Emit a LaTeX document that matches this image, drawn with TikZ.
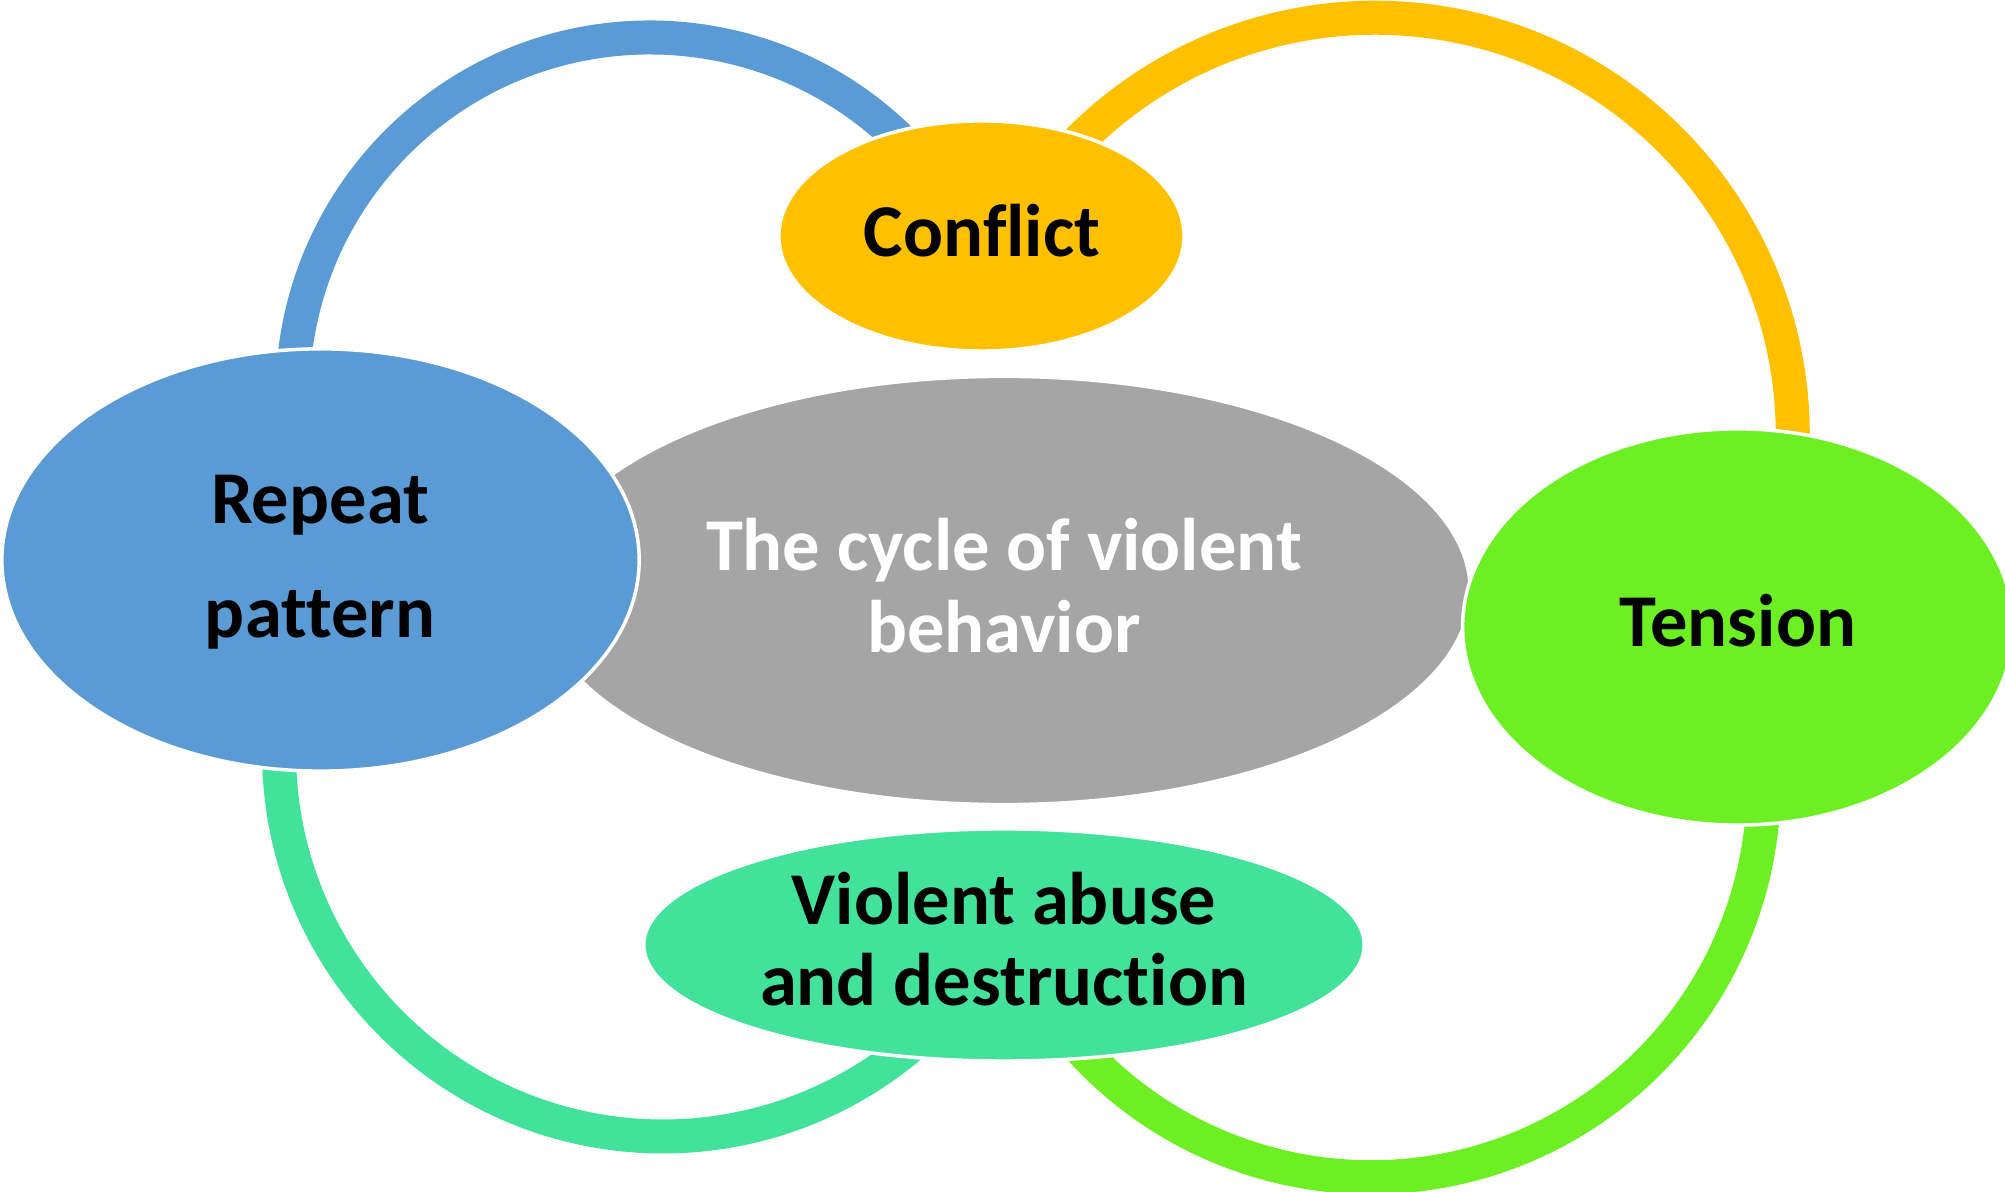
\documentclass[tikz,border=0pt]{standalone}
\usepackage{fontspec}
\setmainfont[Ligatures=NoCommon]{Carlito}
\usetikzlibrary{shapes.geometric}

\definecolor{repeatblue}{HTML}{5B9BD5}
\definecolor{conflictgold}{HTML}{FFC000}
\definecolor{tensiongreen}{HTML}{6CF023}
\definecolor{abuseteal}{HTML}{42E29B}
\definecolor{coregray}{HTML}{A5A5A5}

\tikzset{
  stage/.style={ellipse, draw=white, line width=1pt, inner sep=0pt, outer sep=0pt},
  ring/.style={line width=0.34cm},
  lbl/.style={anchor=base, inner sep=0pt, text=black,
              font=\bfseries\fontsize{21.2}{25}\selectfont},
}

\begin{document}
\begin{tikzpicture}[x=0.01cm, y=0.01cm]
  \useasboundingbox (0,0) rectangle (2005,1192);
  \clip (0,0) rectangle (2005,1192);

  % centres of the four connecting arcs
  \coordinate (arcRC) at (650,797);
  \coordinate (arcCT) at (1375,756.5);
  \coordinate (arcTV) at (1371,407.5);
  \coordinate (arcVR) at (663,439.4);

  % arcs running behind the stage ellipses
  \draw[ring, repeatblue]   (arcRC) ++(40:357.5)   arc[start angle=40,   end angle=177, radius=357.5];
  \draw[ring, conflictgold] (arcCT) ++(-5:417.75)  arc[start angle=-5,   end angle=140, radius=417.75];
  \draw[ring, tensiongreen] (arcTV) ++(-142:392.75) arc[start angle=-142, end angle=0,   radius=392.75];
  \draw[ring, abuseteal]    (arcVR) ++(-182:383.9) arc[start angle=-182, end angle=-45, radius=383.9];

  % central ellipse
  \node[stage, fill=coregray, minimum width=9.32cm, minimum height=4.28cm] (core) at (1004,601.5) {};

  % the four stages
  \node[stage, fill=conflictgold, minimum width=4.05cm, minimum height=2.30cm] (conflict) at (981.5,956) {};
  \node[stage, fill=repeatblue,   minimum width=6.37cm, minimum height=4.22cm] (repeat)   at (320.5,632) {};
  \node[stage, fill=tensiongreen, minimum width=5.50cm, minimum height=3.96cm] (tension)  at (1737.8,565) {};
  \node[stage, fill=abuseteal,    minimum width=7.20cm, minimum height=2.32cm] (abuse)    at (1004,247) {};

  % labels
  \node[lbl] (conflictT) at (982,935) {Conflict};
  \node[lbl] (repeatT1) at (320,668) {Repeat};
  \node[lbl] (repeatT2) at (320,554) {pattern};
  \node[lbl, text=white] (coreT1) at (1004,621.3) {The cycle of violent};
  \node[lbl, text=white] (coreT2) at (1004,539.3) {behavior};
  \node[lbl] (tensionT) at (1738,545) {Tension};
  \node[lbl] (abuseT1) at (1004,267.3) {Violent abuse};
  \node[lbl] (abuseT2) at (1004,186.1) {and destruction};
\end{tikzpicture}
\end{document}
